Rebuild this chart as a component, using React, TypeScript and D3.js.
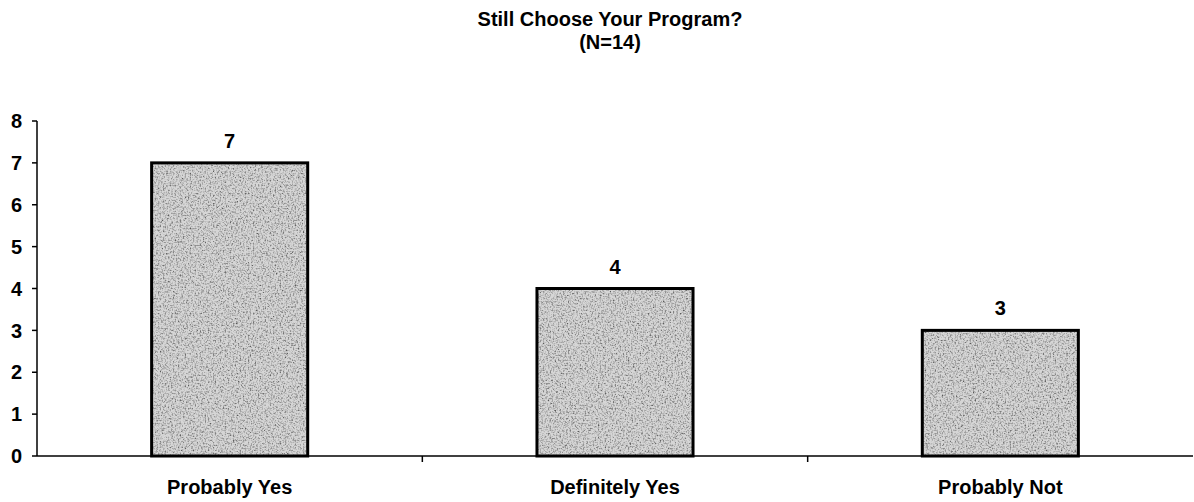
import React from "react";
import * as d3 from "d3";

const categories = ["Probably Yes", "Definitely Yes", "Probably Not"];
const values = [7, 4, 3];
const yTicks = [0, 1, 2, 3, 4, 5, 6, 7, 8];
const titleLines = ["Still Choose Your Program?", "(N=14)"];

const W = 1194;
const H = 502;
const left = 37;
const right = 1193;
const top = 121;
const bottom = 456;

export default function App() {
  const x = d3.scaleBand<string>().domain(categories).range([left, right]).padding(0);
  const y = d3.scaleLinear().domain([0, 8]).range([bottom, top]);
  const bw = x.bandwidth();
  const barW = bw * 0.405;
  const font = "'Liberation Sans', Arial, Helvetica, sans-serif";
  const boundaries = categories.slice(1).map((c) => x(c) as number);

  return (
    <svg width={W} height={H} style={{ position: "absolute", left: 0, top: 0, background: "#fff" }}>
      <defs>
        <filter id="speckle" x="0" y="0" width="100%" height="100%">
          <feTurbulence type="fractalNoise" baseFrequency="0.6" numOctaves="3" seed="3" result="noise" />
          <feColorMatrix
            in="noise"
            type="matrix"
            values="0 0 0 0 0.1  0 0 0 0 0.1  0 0 0 0 0.1  -2.4 0 0 0 1.35"
            result="dots"
          />
          <feComposite in="dots" in2="SourceGraphic" operator="in" result="dotsIn" />
          <feMerge>
            <feMergeNode in="SourceGraphic" />
            <feMergeNode in="dotsIn" />
          </feMerge>
        </filter>
      </defs>

      {titleLines.map((t, i) => (
        <text
          key={i}
          x={610}
          y={26 + i * 23}
          textAnchor="middle"
          fontFamily={font}
          fontWeight="bold"
          fontSize={20}
          fill="#000"
        >
          {t}
        </text>
      ))}

      {/* bars */}
      {categories.map((c, i) => {
        const cx = (x(c) as number) + bw / 2;
        return (
          <g key={c}>
            <rect
              x={cx - barW / 2}
              y={y(values[i])}
              width={barW}
              height={y(0) - y(values[i])}
              fill="#d6d6d6"
              filter="url(#speckle)"
            />
            <rect
              x={cx - barW / 2}
              y={y(values[i])}
              width={barW}
              height={y(0) - y(values[i])}
              fill="none"
              stroke="#000"
              strokeWidth={3}
            />
            <text
              x={cx}
              y={y(values[i]) - 15}
              textAnchor="middle"
              fontFamily={font}
              fontWeight="bold"
              fontSize={20}
            >
              {values[i]}
            </text>
            <text
              x={cx}
              y={494}
              textAnchor="middle"
              fontFamily={font}
              fontWeight="bold"
              fontSize={20}
            >
              {c}
            </text>
          </g>
        );
      })}

      {/* y axis */}
      <line x1={left} x2={left} y1={y(8)} y2={y(0)} stroke="#000" strokeWidth={1.5} />
      {yTicks.map((t) => (
        <g key={t}>
          <line x1={left - 5} x2={left} y1={y(t)} y2={y(t)} stroke="#000" strokeWidth={1.5} />
          <text
            x={22}
            y={y(t)}
            dy="0.36em"
            textAnchor="end"
            fontFamily={font}
            fontWeight="bold"
            fontSize={20}
          >
            {t}
          </text>
        </g>
      ))}

      {/* x axis */}
      <line x1={left} x2={right} y1={y(0)} y2={y(0)} stroke="#000" strokeWidth={1.5} />
      {boundaries.map((b, i) => (
        <line key={i} x1={b} x2={b} y1={y(0)} y2={y(0) + 6} stroke="#000" strokeWidth={1.5} />
      ))}
    </svg>
  );
}
